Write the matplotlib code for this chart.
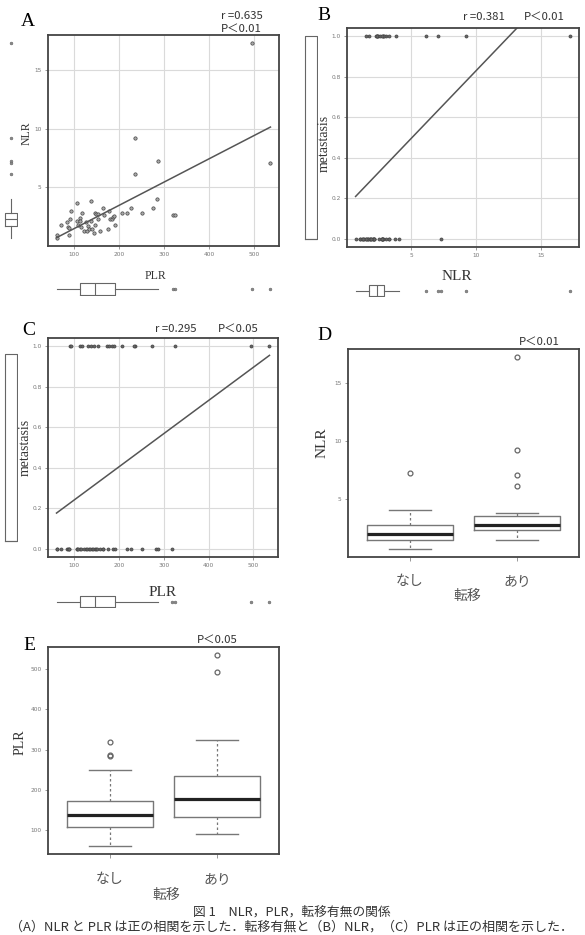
import numpy as np
import matplotlib.pyplot as plt

# one entry per patient; met: 0 = なし, 1 = あり
plr = [60.2, 61.7, 69.1, 83.8, 86.7, 87.5, 88.2, 91.2, 93.4, 105.2,
       106.6, 108.8, 111.8, 113.3, 115.5, 117.7, 120.6, 125.8, 128.0, 130.2,
       132.4, 136.1, 137.6, 139.8, 142.7, 144.9, 146.4, 147.9, 151.6, 152.3,
       157.5, 163.4, 164.8, 173.7, 175.9, 178.1, 183.2, 186.9, 189.1, 189.9,
       206.1, 217.9, 226.7, 235.6, 234.1, 250.3, 274.6, 283.4, 286.4, 318.8,
       324.0, 494.1, 536.1]
nlr = [1.00, 0.69, 1.85, 2.05, 1.66, 1.57, 1.00, 2.34, 3.02, 3.70,
       2.14, 1.77, 2.42, 2.11, 1.63, 2.79, 1.29, 2.05, 1.32, 1.74,
       1.46, 2.11, 3.84, 1.49, 1.17, 2.79, 1.77, 2.73, 2.76, 2.31,
       1.26, 3.27, 2.70, 1.49, 3.04, 2.28, 2.36, 2.51, 2.56, 1.85,
       2.87, 2.82, 3.27, 9.25, 6.16, 2.79, 3.27, 4.04, 7.27, 2.70,
       2.70, 17.3, 7.07]
met = [0, 0, 0, 0, 0, 0, 0, 1, 1, 0,
       0, 0, 1, 0, 0, 1, 0, 0, 0, 1,
       0, 0, 1, 0, 0, 1, 0, 0, 0, 1,
       0, 0, 0, 1, 0, 1, 1, 0, 1, 0,
       1, 0, 0, 1, 1, 0, 1, 0, 0, 0,
       1, 1, 1]

r_labels = ["r =0.635", "r =0.381", "r =0.295"]
p_labels = ["P＜0.01", "P＜0.01", "P＜0.05", "P＜0.01", "P＜0.05"]
groups = ["なし", "あり"]
group_title = "転移"
caption1 = "図 1　NLR，PLR，転移有無の関係"
caption2 = "（A）NLR と PLR は正の相関を示した．転移有無と（B）NLR，（C）PLR は正の相関を示した．"

plr = np.array(plr)
nlr = np.array(nlr)
met = np.array(met)

JP = ['Noto Sans CJK JP', 'DejaVu Sans']
SERIF = 'Liberation Serif'

W, H = 585, 935
fig = plt.figure(figsize=(W / 100, H / 100), dpi=100)


def axes_px(l, t, r, b, **kw):
    return fig.add_axes([l / W, 1 - b / H, (r - l) / W, (b - t) / H], **kw)


def put(x, y, s, **kw):
    fig.text(x / W, 1 - y / H, s, **kw)


def rlim(v):
    lo, hi = min(v), max(v)
    d = (hi - lo) * 0.04
    return lo - d, hi + d


def frame(ax, grid=True):
    for sp in ax.spines.values():
        sp.set_color('#444')
        sp.set_linewidth(1.3)
    ax.tick_params(labelsize=4.2, labelcolor='#777', color='#888',
                   length=2, width=0.6, pad=2.5)
    if grid:
        ax.grid(color='#dadada', lw=0.8)
        ax.set_axisbelow(True)


def scatter(ax, x, y, ms, mfc):
    ax.plot(x, y, 'o', ms=ms, mfc=mfc, mec='#444', mew=0.5, ls='none')
    k, c = np.polyfit(x, y, 1)
    xs = np.array([x.min(), x.max()])
    ax.plot(xs, k * xs + c, color='#555', lw=1.1)


def margin_box(ax, v, orient):
    ax.boxplot(v, orientation=orient, widths=0.85, showcaps=False,
               boxprops=dict(color='#666', lw=0.8),
               medianprops=dict(color='#666', lw=0.8),
               whiskerprops=dict(color='#666', lw=0.8),
               flierprops=dict(marker='o', ms=2, mfc='#888', mec='#666', mew=0.4))
    if orient == 'vertical':
        ax.set_xlim(0.5, 1.5)
    else:
        ax.set_ylim(0.5, 1.5)
    ax.axis('off')


def group_box(ax, v0, v1):
    ax.boxplot([v0, v1], positions=[1, 2], widths=0.8, capwidths=[0.4, 0.4],
               boxprops=dict(color='#777', lw=1.0),
               medianprops=dict(color='#222', lw=2.3),
               whiskerprops=dict(color='#777', lw=0.9, ls=(0, (2, 2))),
               capprops=dict(color='#777', lw=1.0),
               flierprops=dict(marker='o', ms=3.5, mfc='none', mec='#666', mew=0.9))
    ax.set_xlim(0.42, 2.58)
    ax.set_xticks([1, 2])
    ax.set_xticklabels(groups, family=JP, fontsize=10, color='#555')


# ---- A: PLR vs NLR
axA = axes_px(48, 35, 279, 246)
scatter(axA, plr, nlr, 2.4, '#aaa')
axA.set_xlim(rlim(plr))
axA.set_ylim(rlim(nlr))
axA.set_xticks([100, 200, 300, 400, 500])
axA.set_yticks([5, 10, 15])
frame(axA)
margin_box(axes_px(4, 35, 18, 246, sharey=axA), nlr, 'vertical')
margin_box(axes_px(48, 282, 279, 296, sharex=axA), plr, 'horizontal')
put(28, 21, "A", family=SERIF, fontsize=14, ha='center', va='center')
put(221, 16, r_labels[0], family=JP, fontsize=8.2, va='center', color='#333')
put(221, 28.5, p_labels[0], family=JP, fontsize=8.2, va='center', color='#333')
put(155, 276, "PLR", family=SERIF, fontsize=8.5, ha='center', va='center', color='#333')
put(27, 133, "NLR", family=SERIF, fontsize=8.5, ha='center', va='center',
    rotation=90, color='#333')

# ---- B: NLR vs metastasis
axB = axes_px(347, 28, 579, 247)
scatter(axB, nlr, met, 2.2, '#666')
axB.set_xlim(rlim(nlr))
axB.set_ylim(-0.04, 1.04)
axB.set_xticks([5, 10, 15])
axB.set_yticks([0, 0.2, 0.4, 0.6, 0.8, 1.0])
axB.set_yticklabels([f"{t:.1f}" for t in axB.get_yticks()])
frame(axB)
margin_box(axes_px(304, 28, 318, 247, sharey=axB), met, 'vertical')
margin_box(axes_px(347, 284, 579, 297, sharex=axB), nlr, 'horizontal')
put(324, 15, "B", family=SERIF, fontsize=14, ha='center', va='center')
put(463, 16.5, r_labels[1], family=JP, fontsize=8.2, va='center', color='#333')
put(524, 16.5, p_labels[1], family=JP, fontsize=8.2, va='center', color='#333')
put(457, 276, "NLR", family=SERIF, fontsize=11, ha='center', va='center', color='#333')
put(324, 143, "metastasis", family=SERIF, fontsize=10, ha='center', va='center',
    rotation=90, color='#333')

# ---- C: PLR vs metastasis
axC = axes_px(48, 338, 278, 557)
scatter(axC, plr, met, 2.2, '#666')
axC.set_xlim(rlim(plr))
axC.set_ylim(-0.04, 1.04)
axC.set_xticks([100, 200, 300, 400, 500])
axC.set_yticks([0, 0.2, 0.4, 0.6, 0.8, 1.0])
axC.set_yticklabels([f"{t:.1f}" for t in axC.get_yticks()])
frame(axC)
margin_box(axes_px(4, 346, 18, 549, sharey=axC), met, 'vertical')
margin_box(axes_px(48, 595, 278, 608, sharex=axC), plr, 'horizontal')
put(29, 330, "C", family=SERIF, fontsize=14, ha='center', va='center')
put(155, 329, r_labels[2], family=JP, fontsize=8.2, va='center', color='#333')
put(218, 329, p_labels[2], family=JP, fontsize=8.2, va='center', color='#333')
put(163, 592, "PLR", family=SERIF, fontsize=11, ha='center', va='center', color='#333')
put(25, 447, "metastasis", family=SERIF, fontsize=10, ha='center', va='center',
    rotation=90, color='#333')

# ---- D: NLR by metastasis
axD = axes_px(348, 349, 579, 557)
group_box(axD, nlr[met == 0], nlr[met == 1])
axD.set_ylim(rlim(nlr))
axD.set_yticks([5, 10, 15])
frame(axD, grid=False)
axD.tick_params(axis='x', length=3, pad=9, labelsize=10, labelcolor='#555')
put(324, 335, "D", family=SERIF, fontsize=14, ha='center', va='center')
put(519, 341.5, p_labels[3], family=JP, fontsize=8.2, va='center', color='#333')
put(322, 443, "NLR", family=SERIF, fontsize=11, ha='center', va='center',
    rotation=90, color='#333')
put(467, 596, group_title, family=JP, fontsize=10, ha='center', va='center', color='#555')

# ---- E: PLR by metastasis
axE = axes_px(48, 647, 279, 854)
group_box(axE, plr[met == 0], plr[met == 1])
axE.set_ylim(rlim(plr))
axE.set_yticks([100, 200, 300, 400, 500])
frame(axE, grid=False)
axE.tick_params(axis='x', length=3, pad=10, labelsize=10, labelcolor='#555')
put(29, 646, "E", family=SERIF, fontsize=14, ha='center', va='center')
put(197, 640, p_labels[4], family=JP, fontsize=8.2, va='center', color='#333')
put(20, 742, "PLR", family=SERIF, fontsize=10, ha='center', va='center',
    rotation=90, color='#333')
put(166, 895, group_title, family=JP, fontsize=10, ha='center', va='center', color='#555')

# caption
put(292, 912, caption1, family=JP, fontsize=9.2, ha='center', va='center', color='#333')
put(292, 927, caption2, family=JP, fontsize=9.4, ha='center', va='center', color='#333')

fig.savefig("out.png", dpi=100)
